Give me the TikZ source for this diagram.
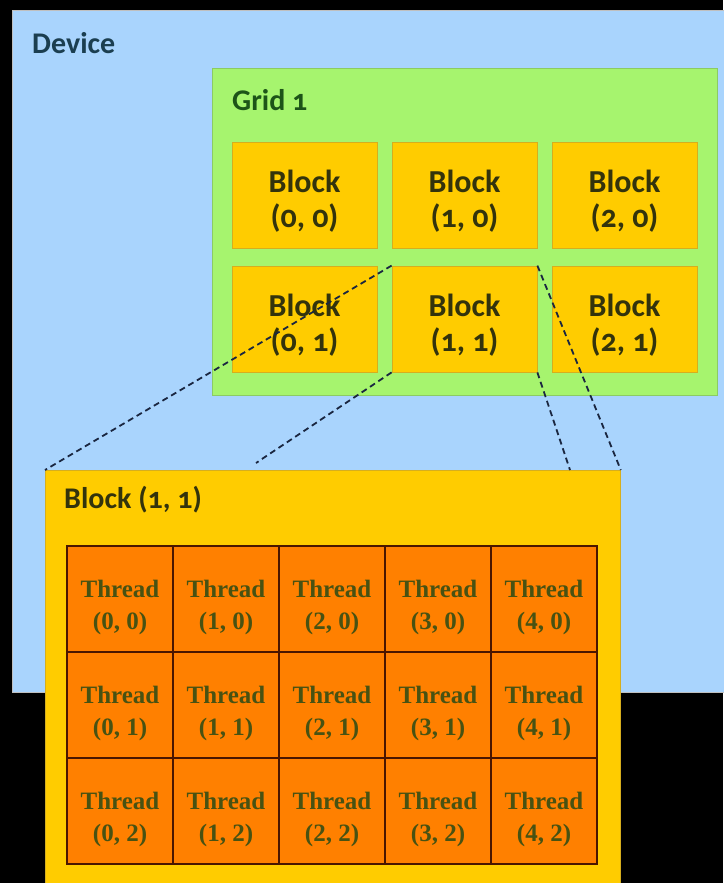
\documentclass[tikz,border=0pt]{standalone}
\usepackage{fontspec}
\setmainfont{Carlito}[Numbers=OldStyle]
\newfontfamily\thrfont{Liberation Serif}
\usetikzlibrary{positioning}

\definecolor{devblue}{HTML}{A9D4FD}
\definecolor{gridgreen}{HTML}{A6F46E}
\definecolor{gridedge}{HTML}{8CCB62}
\definecolor{blkgold}{HTML}{FFCC00}
\definecolor{blkedge}{HTML}{D6AE1E}
\definecolor{throrange}{HTML}{FF8000}
\definecolor{thredge}{HTML}{4A1600}
\definecolor{devtext}{HTML}{1B3E50}
\definecolor{gridtext}{HTML}{1D5418}
\definecolor{blktext}{HTML}{33330C}
\definecolor{thrtext}{HTML}{485212}
\definecolor{zoomcol}{HTML}{1A2640}

\tikzset{
  title/.style={anchor=west, inner sep=0pt, font=\fontsize{30}{36}\selectfont\bfseries},
  blockbox/.style={draw=blkedge, fill=blkgold, line width=0.8pt, inner sep=0pt,
    minimum width=145pt, minimum height=106pt},
  blocktext/.style={inner sep=0pt, align=center, text=blktext,
    font=\fontsize{32}{35}\selectfont\bfseries},
  threadbox/.style={draw=thredge, fill=throrange, line width=1.6pt, inner sep=0pt,
    minimum size=106pt},
  threadtext/.style={inner sep=0pt, align=center, text=thrtext,
    font=\thrfont\fontsize{25}{32}\selectfont\bfseries},
  zoomline/.style={draw=zoomcol, line width=1.8pt, dash pattern=on 6pt off 4pt},
}

\begin{document}
\begin{tikzpicture}[x=1pt, y=-1pt]
  \fill[black] (0,0) rectangle (723,883);
  \useasboundingbox (0,0) rectangle (723,883);

  % device and grid
  \node[draw=gray!50, fill=devblue, line width=0.6pt, anchor=north west, inner sep=0pt,
    minimum width=730pt, minimum height=682pt] (device) at (12,10) {};
  \node[title, text=devtext] (devlabel) at (32,43) {Device};
  \node[draw=gridedge, fill=gridgreen, line width=0.8pt, anchor=north west, inner sep=0pt,
    minimum width=505pt, minimum height=327pt] (grid) at (212,68) {};
  \node[title, text=gridtext] (gridlabel) at (232,100) {Grid 1};

  \foreach \i in {0,1,2}
    \foreach \j in {0,1} {
      \node[blockbox] (blk-\i-\j) at (304.5+160*\i, 195+124*\j) {};
      \node[blocktext] (blktxt-\i-\j) at ([yshift=-6pt]blk-\i-\j.center) {Block\\(\i, \j)};
    }

  % the zoomed block
  \node[draw=blkedge, fill=blkgold, line width=0.8pt, anchor=north west, inner sep=0pt,
    minimum width=575pt, minimum height=430pt] (zoom) at (45,470) {};
  \node[title, text=blktext] (zoomlabel) at (64,500) {Block (1, 1)};

  \foreach \i in {0,...,4}
    \foreach \j in {0,1,2} {
      \node[threadbox] (thr-\i-\j) at (120+106*\i, 599+106*\j) {};
      \node[threadtext] (thrtxt-\i-\j) at ([yshift=-8pt]thr-\i-\j.center) {Thread\\(\i, \j)};
    }

  \coordinate (zsw) at (256,463);
  \coordinate (zse) at (570,470);
  \draw[zoomline] (blk-1-1.north west) -- (zoom.north west);
  \draw[zoomline] (blk-1-1.south west) -- (zsw);
  \draw[zoomline] (blk-1-1.north east) -- (zoom.north east);
  \draw[zoomline] (blk-1-1.south east) -- (zse);
\end{tikzpicture}
\end{document}
